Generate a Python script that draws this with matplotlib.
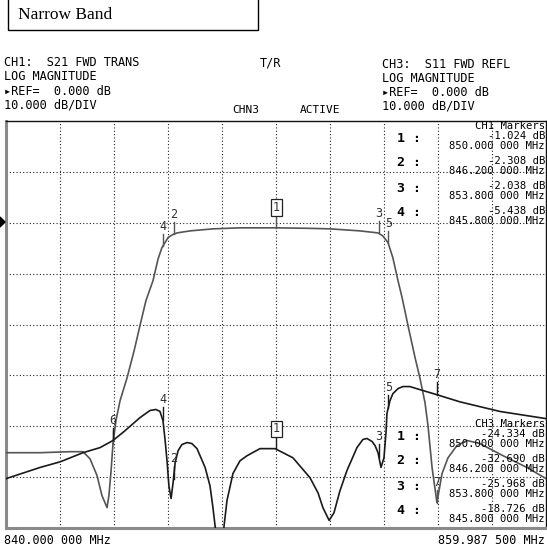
import matplotlib
matplotlib.use('Agg')
import matplotlib.pyplot as plt
import numpy as np
from matplotlib.patches import Rectangle, Polygon

W, H = 547, 550

# ---------------- data ----------------
f_start, f_stop = 840.0, 859.9875
y_top, y_bot = 20, -60          # display dB (REF 0 dB two divisions below top, 10 dB/div)

freq_s21 = [840.00, 841.26, 842.37, 842.85, 843.11, 843.37, 843.55, 843.74, 843.81, 843.89,
            843.96, 844.07, 844.22, 844.48, 844.74, 844.96, 845.18, 845.44, 845.63, 845.77,
            846.00, 846.18, 846.33, 846.81, 847.66, 848.66, 849.99, 851.25, 851.99, 853.10,
            853.77, 853.95, 854.14, 854.32, 854.51, 854.66, 854.88, 855.14, 855.32, 855.51,
            855.62, 855.77, 855.95, 856.14, 856.36, 856.69, 857.06, 857.54, 858.40, 859.28,
            859.99]
db_s21 = [-45.2, -45.2, -45.0, -45.0, -46.4, -49.7, -53.6, -56.0, -53.6, -48.7,
          -43.4, -38.9, -35.0, -30.5, -25.2, -20.2, -15.3, -11.4, -7.1, -4.9,
          -2.9, -2.3, -2.0, -1.6, -1.2, -1.0, -1.0, -1.1, -1.2, -1.6,
          -2.0, -2.6, -3.9, -6.9, -11.4, -14.7, -20.2, -26.5, -30.5, -35.4,
          -39.9, -48.1, -55.0, -49.3, -46.2, -43.8, -42.8, -43.4, -45.8, -48.1,
          -50.3]

freq_s11 = [840.00, 841.26, 842.00, 842.85, 843.48, 843.96, 844.40, 844.96, 845.33, 845.55,
            845.70, 845.81, 845.89, 845.96, 846.03, 846.11, 846.18, 846.26, 846.37, 846.51,
            846.70, 846.88, 847.07, 847.37, 847.55, 847.66, 847.77, 847.90, 848.04, 848.18,
            848.40, 848.66, 848.92, 849.40, 849.96, 850.62, 851.25, 851.55, 851.73, 851.96,
            852.14, 852.36, 852.62, 852.99, 853.21, 853.36, 853.55, 853.66, 853.77, 853.88,
            853.99, 854.07, 854.10, 854.21, 854.32, 854.51, 854.69, 854.95, 855.32, 855.95,
            856.80, 858.29, 859.99]
db_s11 = [-50.3, -48.1, -47.0, -45.2, -44.2, -42.8, -40.9, -38.3, -36.9, -36.7,
          -37.1, -38.9, -42.8, -46.8, -51.7, -54.2, -51.3, -47.2, -44.8, -43.6,
          -43.2, -43.4, -44.4, -48.1, -51.7, -56.0, -61.0, -63.0, -61.0, -54.6,
          -49.3, -46.8, -45.8, -44.4, -44.4, -46.2, -50.1, -53.1, -56.0, -58.5,
          -57.0, -52.7, -48.7, -44.2, -42.6, -42.4, -43.0, -43.8, -45.2, -48.1,
          -46.2, -40.9, -37.5, -35.0, -33.6, -32.6, -32.2, -32.2, -32.8, -33.8,
          -35.2, -37.1, -38.5]

marker_freqs = [850.0, 846.2, 853.8, 845.8, 854.15, 843.96, 855.95]
marker_labels = ['1', '2', '3', '4', '5', '6', '7']

ch1_marker_vals = ['-1.024 dB', '-2.308 dB', '-2.038 dB', '-5.438 dB']
ch3_marker_vals = ['-24.334 dB', '-32.690 dB', '-25.968 dB', '-18.726 dB']
marker_freq_txt = ['850.000 000 MHz', '846.200 000 MHz', '853.800 000 MHz', '845.800 000 MHz']

ch1_header = ['CH1:  S21 FWD TRANS', 'LOG MAGNITUDE', '\u25b8REF=  0.000 dB', '10.000 dB/DIV']
ch3_header = ['CH3:  S11 FWD REFL', 'LOG MAGNITUDE', '\u25b8REF=  0.000 dB', '10.000 dB/DIV']

# ---------------- figure ----------------
mono = ['DejaVu Sans Mono', 'DejaVu Sans']
fig = plt.figure(figsize=(W / 100, H / 100), dpi=100)
fig.patch.set_facecolor('white')

def P(x, y):
    return (x / W, 1 - y / H)

ax = fig.add_axes([6 / W, 22 / H, 540 / W, 407 / H])
ax.set_xlim(f_start, f_stop)
ax.set_ylim(y_bot, y_top)
ax.set_xticks(np.linspace(f_start, f_stop, 11)[1:-1])
ax.set_yticks(np.arange(y_bot + 10, y_top, 10))
ax.grid(True, linestyle=(0, (1, 2)), color='#222222', lw=0.8)
ax.tick_params(length=0, labelbottom=False, labelleft=False)
for s in ['left', 'bottom']:
    ax.spines[s].set_color('#8a8a8a')
    ax.spines[s].set_linewidth(2.2)
for s in ['top', 'right']:
    ax.spines[s].set_color('#111111')
    ax.spines[s].set_linewidth(1.0)

c21, c11 = '#555555', '#1a1a1a'
ax.plot(freq_s21, db_s21, color=c21, lw=1.2, zorder=3)
ax.plot(freq_s11, db_s11, color=c11, lw=1.2, zorder=3)

def mark(fx, fy, f, lab, color, show_label=True):
    v = np.interp(f, fx, fy)
    ax.plot([f, f], [v, v + 2.5], color=color, lw=1.0, zorder=4)
    if not show_label:
        return
    kw = dict(ha='center', va='bottom', fontsize=8.5, family=mono, color='#333333', zorder=5)
    if lab == '1':
        kw['bbox'] = dict(boxstyle='square,pad=0.15', fc='white', ec='#222222', lw=0.9)
    ax.text(f, v + 2.7, lab, **kw)

for f, lab in zip(marker_freqs, marker_labels):
    # marker 6 of both channels sits on the crossing point: one label shows
    mark(freq_s21, db_s21, f, lab, c21, show_label=(lab != '6'))
    mark(freq_s11, db_s11, f, lab, c11)

# marker tables
def table(y_h, title, vals):
    fig.text(*P(545, y_h), title, ha='right', va='center', fontsize=7.6, family=mono)
    for k in range(4):
        fig.text(*P(545, y_h + 10 + 25 * k), vals[k], ha='right', va='center', fontsize=7.6, family=mono)
        fig.text(*P(545, y_h + 20 + 25 * k), marker_freq_txt[k], ha='right', va='center', fontsize=7.6, family=mono)
        fig.text(*P(397, y_h + 12 + 25 * k), f'{k + 1} :', ha='left', va='center', fontsize=9.5,
                 family=mono, fontweight='bold')

table(126, 'CH1 Markers', ch1_marker_vals)
table(424, 'CH3 Markers', ch3_marker_vals)

# headers
for i, t in enumerate(ch1_header):
    fig.text(*P(4, 63 + 14 * i), t, ha='left', va='center', fontsize=8.6, family=mono)
for i, t in enumerate(ch3_header):
    fig.text(*P(382, 64 + 14 * i), t, ha='left', va='center', fontsize=8.6, family=mono)
fig.text(*P(260, 63), 'T/R', ha='left', va='center', fontsize=8.6, family=mono)
fig.text(*P(232, 110), 'CHN3', ha='left', va='center', fontsize=8, family=mono)
fig.text(*P(300, 110), 'ACTIVE', ha='left', va='center', fontsize=8, family=mono)

fig.text(*P(4, 541), f'{f_start:.3f} 000 MHz', ha='left', va='center', fontsize=8.5, family=mono)
fig.text(*P(545, 541), '859.987 500 MHz', ha='right', va='center', fontsize=8.5, family=mono)

# reference arrow on the left edge
fig.patches.append(Polygon([P(0, 217), P(5, 222), P(0, 227)], closed=True,
                           transform=fig.transFigure, fc='black', ec='black'))

# title box
x0, y0 = P(8, 30)
x1, y1 = P(258, -2)
fig.patches.append(Rectangle((x0, y0), x1 - x0, y1 - y0, transform=fig.transFigure,
                             fill=False, ec='black', lw=1.0))
fig.text(*P(18, 15), 'Narrow Band', ha='left', va='center', fontsize=12.5,
         family=['Liberation Serif', 'DejaVu Serif'])

fig.savefig('out.png', dpi=100)
